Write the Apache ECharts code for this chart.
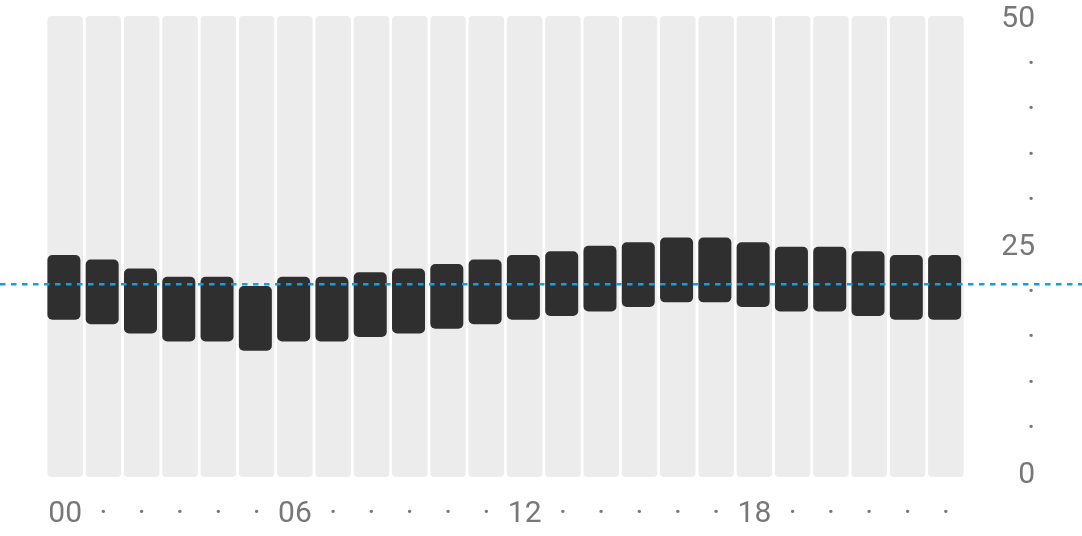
<!DOCTYPE html>
<html>
<head>
<meta charset="utf-8">
<script src="https://cdn.jsdelivr.net/npm/echarts@6/dist/echarts.min.js"></script>
<style>
html,body{margin:0;padding:0;background:#fff;}
#c{width:1082px;height:536px;}
</style>
</head>
<body>
<div id="c"></div>
<script>
const hours = ['00','01','02','03','04','05','06','07','08','09','10','11','12','13','14','15','16','17','18','19','20','21','22','23'];
const highs = [23.8, 23.3, 22.3, 21.4, 21.4, 20.4, 21.4, 21.4, 21.9, 22.3, 22.8, 23.3, 23.8, 24.2, 24.8, 25.2, 25.7, 25.7, 25.2, 24.7, 24.7, 24.2, 23.8, 23.8];
const lows  = [16.7, 16.2, 15.2, 14.3, 14.3, 13.3, 14.3, 14.3, 14.8, 15.2, 15.7, 16.2, 16.7, 17.1, 17.6, 18.1, 18.6, 18.6, 18.1, 17.6, 17.6, 17.1, 16.7, 16.7];
const axisMax = 50;
const refValue = 20.6;
const labeledHours = ['00','06','12','18'];

const ranges = highs.map((h, i) => +(h - lows[i]).toFixed(2));
const backdrop = hours.map(() => axisMax);

const chart = echarts.init(document.getElementById('c'), null, {renderer: 'canvas'});
const labelColor = '#777777';
const fontFamily = 'Roboto';
const hidden = {show: false};
chart.setOption({
  animation: false,
  grid: [
    {left: 46, right: 117, top: 16, bottom: 64},   // labels, dark bars
    {left: 46, right: 117, top: 16, bottom: 59},   // grey columns
    {left: 0, right: 0, top: 16, bottom: 64}       // full-width reference line
  ],
  xAxis: [
    {
      type: 'category', data: hours, gridIndex: 0,
      axisLine: hidden, axisTick: hidden, splitLine: hidden,
      axisLabel: {
        interval: 0, margin: 27, color: labelColor, fontSize: 30, fontFamily: fontFamily,
        formatter: v => labeledHours.includes(v) ? v : '·'
      }
    },
    {type: 'category', data: hours, gridIndex: 1, show: false},
    {type: 'value', gridIndex: 2, min: 0, max: 1, show: false}
  ],
  yAxis: [
    {
      type: 'value', gridIndex: 0, position: 'right', min: 0, max: axisMax, interval: 5,
      axisLine: hidden, axisTick: hidden, splitLine: hidden,
      axisLabel: {
        margin: 70, align: 'right', color: labelColor, fontSize: 30, fontFamily: fontFamily,
        formatter: v => '{t|' + ((v % 25 === 0) ? String(v) : '·') + '}',
        rich: {
          t: {color: labelColor, fontSize: 30, fontFamily: fontFamily, padding: [7, 0, 0, 0], align: 'right'}
        }
      }
    },
    {type: 'value', gridIndex: 1, min: 0, max: axisMax, show: false},
    {type: 'value', gridIndex: 2, min: 0, max: axisMax, show: false}
  ],
  series: [
    {
      type: 'bar', xAxisIndex: 1, yAxisIndex: 1, data: backdrop, barWidth: 35.5,
      itemStyle: {color: '#ececec', borderRadius: 4}, z: 1, silent: true
    },
    {
      type: 'bar', stack: 'r', data: lows, barWidth: 33,
      itemStyle: {color: 'transparent'}, z: 3, silent: true
    },
    {
      type: 'bar', stack: 'r', data: ranges, barWidth: 33,
      itemStyle: {color: '#2f2f2f', borderRadius: 5}, z: 3
    },
    {
      // invisible slot that left-aligns the dark bars inside the grey columns
      type: 'bar', data: backdrop, barWidth: 35.5, barGap: '-100%',
      itemStyle: {color: 'transparent'}, z: 0, silent: true
    },
    {
      type: 'line', xAxisIndex: 2, yAxisIndex: 2,
      data: [[0, refValue], [1, refValue]],
      symbol: 'none', z: 10,
      lineStyle: {color: '#0fa0e8', width: 2.5, type: [5.5, 5.5]}
    }
  ]
});
</script>
</body>
</html>
